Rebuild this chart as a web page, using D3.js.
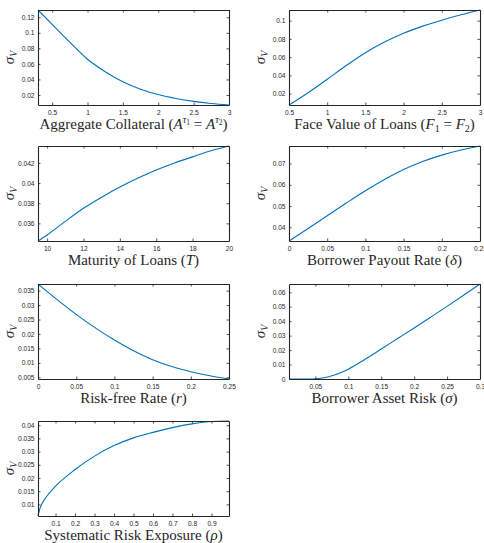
<!DOCTYPE html>
<html>
<head>
<meta charset="utf-8">
<script src="https://cdn.jsdelivr.net/npm/d3@7"></script>
<style>
  body { margin: 0; background: #fff; }
  svg { display: block; }
  .tick text { font-family: "Liberation Sans", Arial, sans-serif; font-size: 6.6px; fill: #262626; }
  .lab { font-family: "Liberation Serif", "DejaVu Serif", serif; fill: #262626; }
</style>
</head>
<body>
<svg width="484" height="543"></svg>
<script>
// panel 1: aggregate collateral
var collateralX = [0.3, 0.5, 0.75, 1, 1.25, 1.5, 1.75, 2, 2.25, 2.5, 2.75, 3];
var collateralY = [0.1294, 0.111, 0.088, 0.066, 0.050, 0.037, 0.0275, 0.0205, 0.0155, 0.0118, 0.0091, 0.0071];
var collateralXTicks = [0.5, 1, 1.5, 2, 2.5, 3];
var collateralYTicks = [0.02, 0.04, 0.06, 0.08, 0.1, 0.12];

// panel 2: face value
var faceX = [0.5, 0.75, 1, 1.25, 1.5, 1.75, 2, 2.25, 2.5, 2.75, 3];
var faceY = [0.0075, 0.0210, 0.0358, 0.0508, 0.0648, 0.0765, 0.0862, 0.0940, 0.1005, 0.1064, 0.1117];
var faceXTicks = [0.5, 1, 1.5, 2, 2.5, 3];
var faceYTicks = [0.02, 0.04, 0.06, 0.08, 0.1];

// panel 3: maturity
var maturityX = [9.5, 10, 11, 12, 13, 14, 15, 16, 17, 18, 19, 20];
var maturityY = [0.03425, 0.03485, 0.0362, 0.0375, 0.0386, 0.0396, 0.0405, 0.0413, 0.0420, 0.0426, 0.0432, 0.04368];
var maturityXTicks = [10, 12, 14, 16, 18, 20];
var maturityYTicks = [0.036, 0.038, 0.04, 0.042];

// panel 4: payout rate
var payoutX = [0, 0.025, 0.05, 0.075, 0.1, 0.125, 0.15, 0.175, 0.2, 0.225, 0.25];
var payoutY = [0.0335, 0.0394, 0.0454, 0.0514, 0.0572, 0.0625, 0.0672, 0.0710, 0.0740, 0.0764, 0.0783];
var payoutXTicks = [0, 0.05, 0.1, 0.15, 0.2, 0.25];
var payoutYTicks = [0.04, 0.05, 0.06, 0.07];

// panel 5: risk-free rate
var rateX = [0, 0.025, 0.05, 0.075, 0.1, 0.125, 0.15, 0.175, 0.2, 0.225, 0.25];
var rateY = [0.0373, 0.0319, 0.0268, 0.0221, 0.0179, 0.0142, 0.0111, 0.0087, 0.0069, 0.0055, 0.0044];
var rateXTicks = [0, 0.05, 0.1, 0.15, 0.2, 0.25];
var rateYTicks = [0.005, 0.01, 0.015, 0.02, 0.025, 0.03, 0.035];

// panel 6: asset risk
var assetX = [0.01, 0.02, 0.03, 0.04, 0.05, 0.06, 0.07, 0.08, 0.09, 0.1, 0.125, 0.15, 0.175, 0.2, 0.225, 0.25, 0.275, 0.3];
var assetY = [0, 0, 0, 0.00002, 0.0002, 0.0007, 0.0016, 0.0029, 0.0047, 0.0068, 0.0135, 0.0207, 0.0280, 0.0353, 0.0427, 0.0502, 0.0579, 0.0657];
var assetXTicks = [0.05, 0.1, 0.15, 0.2, 0.25, 0.3];
var assetYTicks = [0, 0.01, 0.02, 0.03, 0.04, 0.05, 0.06];

// panel 7: systematic risk
var rhoX = [0.01, 0.02, 0.03, 0.05, 0.1, 0.2, 0.3, 0.4, 0.5, 0.6, 0.7, 0.8, 0.9, 0.99];
var rhoY = [0.0056, 0.0085, 0.0102, 0.0126, 0.0169, 0.0232, 0.0283, 0.0323, 0.0352, 0.0373, 0.0391, 0.0405, 0.0414, 0.0416];
var rhoXTicks = [0.1, 0.2, 0.3, 0.4, 0.5, 0.6, 0.7, 0.8, 0.9];
var rhoYTicks = [0.01, 0.015, 0.02, 0.025, 0.03, 0.035, 0.04];

var svg = d3.select('svg');
var boxW = 191, boxH = 95;
var cols = [38, 289];
var rows = [10, 146, 284, 421];
var blue = '#0072BD';
var axisColor = '#262626';

// matlab style tick text: shortest form
function fmt(d) { return String(+d.toFixed(6)); }

// x label pieces: [text, italic, kind] kind: '' normal, 'sup', 'supsub', 'sub'
function panel(col, row, xs, ys, xTicks, yTicks, xDom, yDom, label) {
  var left = cols[col], top = rows[row];
  var x = d3.scaleLinear().domain(xDom).range([left, left + boxW]);
  var y = d3.scaleLinear().domain(yDom).range([top + boxH, top]);
  var g = svg.append('g');

  var pts = xs.map(function (d, i) { return [d, ys[i]]; });
  g.append('path')
    .datum(pts)
    .attr('fill', 'none')
    .attr('stroke', blue)
    .attr('stroke-width', 1.1)
    .attr('d', d3.line().x(function (d) { return x(d[0]); }).y(function (d) { return y(d[1]); }).curve(d3.curveMonotoneX));

  var tk = -2.5;
  g.append('g').attr('transform', 'translate(0,' + (top + boxH) + ')')
    .call(d3.axisBottom(x).tickValues(xTicks).tickFormat(fmt).tickSizeInner(tk).tickSizeOuter(0).tickPadding(5));
  g.append('g').attr('transform', 'translate(' + left + ',0)')
    .call(d3.axisLeft(y).tickValues(yTicks).tickFormat(fmt).tickSizeInner(tk).tickSizeOuter(0).tickPadding(3.5));
  g.append('g').attr('transform', 'translate(0,' + top + ')')
    .call(d3.axisTop(x).tickValues(xTicks).tickSizeInner(tk).tickSizeOuter(0).tickFormat(''));
  g.append('g').attr('transform', 'translate(' + (left + boxW) + ',0)')
    .call(d3.axisRight(y).tickValues(yTicks).tickSizeInner(tk).tickSizeOuter(0).tickFormat(''));

  g.selectAll('.domain').attr('stroke', axisColor).attr('stroke-width', 1.1);
  g.selectAll('.tick line').attr('stroke', axisColor).attr('stroke-width', 0.8);

  // y label sigma_V
  var yl = g.append('text')
    .attr('class', 'lab')
    .attr('transform', 'translate(' + (left - 24) + ',' + (top + boxH / 2) + ') rotate(-90)')
    .attr('text-anchor', 'middle')
    .style('font-size', '15px');
  yl.append('tspan').style('font-style', 'italic').text('σ');
  yl.append('tspan').style('font-style', 'italic').style('font-size', '10px').attr('dy', 3).text('V');

  // x label
  var xl = g.append('text')
    .attr('class', 'lab')
    .attr('x', left + boxW / 2)
    .attr('y', top + boxH + 24)
    .attr('text-anchor', 'middle')
    .style('font-size', '15px');
  var shift = 0;
  label.forEach(function (p) {
    var want = p[2] === 'sup' ? -6 : p[2] === 'supsub' ? -4 : p[2] === 'sub' ? 3 : 0;
    var ts = xl.append('tspan').attr('dy', want - shift).text(p[0]);
    shift = want;
    if (p[1]) ts.style('font-style', 'italic');
    if (p[2] === 'sup') ts.style('font-size', '10px');
    if (p[2] === 'supsub') ts.style('font-size', '7.5px');
    if (p[2] === 'sub') ts.style('font-size', '10px');
  });
}

panel(0, 0, collateralX, collateralY, collateralXTicks, collateralYTicks, [0.3, 3], [0.0071, 0.1294],
  [['Aggregate Collateral (', 0, ''], ['A', 1, ''], ['τ', 1, 'sup'], ['1', 0, 'supsub'], [' = ', 0, ''], ['A', 1, ''], ['τ', 1, 'sup'], ['2', 0, 'supsub'], [')', 0, '']]);
panel(1, 0, faceX, faceY, faceXTicks, faceYTicks, [0.5, 3], [0.0075, 0.1117],
  [['Face Value of Loans (', 0, ''], ['F', 1, ''], ['1', 0, 'sub'], [' = ', 0, ''], ['F', 1, ''], ['2', 0, 'sub'], [')', 0, '']]);
panel(0, 1, maturityX, maturityY, maturityXTicks, maturityYTicks, [9.5, 20], [0.03425, 0.04368],
  [['Maturity of Loans (', 0, ''], ['T', 1, ''], [')', 0, '']]);
panel(1, 1, payoutX, payoutY, payoutXTicks, payoutYTicks, [0, 0.25], [0.0335, 0.0783],
  [['Borrower Payout Rate (', 0, ''], ['δ', 1, ''], [')', 0, '']]);
panel(0, 2, rateX, rateY, rateXTicks, rateYTicks, [0, 0.25], [0.0044, 0.0373],
  [['Risk-free Rate (', 0, ''], ['r', 1, ''], [')', 0, '']]);
panel(1, 2, assetX, assetY, assetXTicks, assetYTicks, [0.01, 0.3], [0, 0.0657],
  [['Borrower Asset Risk (', 0, ''], ['σ', 1, ''], [')', 0, '']]);
panel(0, 3, rhoX, rhoY, rhoXTicks, rhoYTicks, [0.01, 0.99], [0.0056, 0.0416],
  [['Systematic Risk Exposure (', 0, ''], ['ρ', 1, ''], [')', 0, '']]);
</script>
</body>
</html>
